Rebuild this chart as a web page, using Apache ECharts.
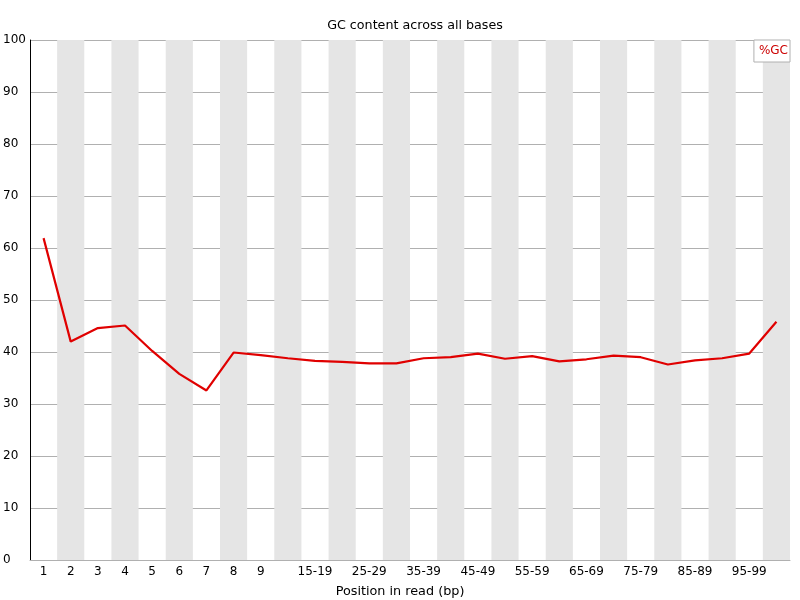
<!DOCTYPE html>
<html>
<head>
<meta charset="utf-8">
<script src="https://cdn.jsdelivr.net/npm/echarts@6/dist/echarts.min.js"></script>
<style>html,body{margin:0;padding:0;background:#fff}#c{width:800px;height:600px}</style>
</head>
<body>
<div id="c"></div>
<script>
const categories = ['1','2','3','4','5','6','7','8','9','10-14','15-19','20-24','25-29','30-34','35-39','40-44','45-49','50-54','55-59','60-64','65-69','70-74','75-79','80-84','85-89','90-94','95-99','100-101'];
const gcValues = [61.9,42.0,44.6,45.1,40.2,35.8,32.6,39.9,39.4,38.8,38.3,38.1,37.8,37.8,38.8,39.0,39.7,38.7,39.2,38.2,38.6,39.3,39.0,37.6,38.4,38.8,39.7,45.8];
const yTicks = [0,10,20,30,40,50,60,70,80,90,100];

const font = 'DejaVu Sans';
const chart = echarts.init(document.getElementById('c'), null, {renderer:'canvas'});
chart.setOption({
  animation: false,
  backgroundColor: '#ffffff',
  textStyle: {fontFamily: font},
  title: {
    text: 'GC content across all bases',
    left: 410, textAlign: 'center', top: 14,
    textStyle: {fontFamily: font, fontSize: 12.7, fontWeight: 'normal', color: '#000'}
  },
  legend: {
    right: 10, top: 40,
    data: [{name: '%GC', icon: 'none'}],
    itemWidth: 0, itemHeight: 0, itemGap: 0,
    backgroundColor: '#fff',
    borderColor: '#b0b0b0', borderWidth: 1,
    padding: [5, 2, 5, 0],
    textStyle: {fontFamily: font, fontSize: 12, color: '#cc0000'}
  },
  grid: {left: 30, right: 10, top: 40, bottom: 40, containLabel: false, outerBoundsMode: 'none'},
  xAxis: {
    type: 'category',
    data: categories,
    boundaryGap: true,
    name: 'Position in read (bp)',
    nameLocation: 'middle',
    nameGap: 25,
    nameTextStyle: {fontFamily: font, fontSize: 12.8, color: '#000', padding: [0, 20, 0, 0]},
    axisLine: {show: true, lineStyle: {color: '#b0b0b0', width: 1}},
    axisTick: {show: false},
    axisLabel: {
      color: '#000', fontFamily: font, fontSize: 12, margin: 6,
      interval: function (i) { return i < 9 || (i < 27 && (i - 9) % 2 === 1); }
    },
    splitLine: {show: false},
    splitArea: {show: true, interval: 0, areaStyle: {color: ['rgba(255,255,255,0)', '#e5e5e5']}}
  },
  yAxis: {
    type: 'value',
    min: 0, max: 100, interval: 10,
    axisLine: {show: true, lineStyle: {color: '#000', width: 1}},
    axisTick: {show: false},
    axisLabel: {color: '#000', fontFamily: font, fontSize: 12, align: 'left', margin: 27,
      formatter: function (v) { return yTicks.indexOf(v) >= 0 ? String(v) : ''; }},
    splitLine: {show: true, lineStyle: {color: '#b0b0b0', width: 1}}
  },
  series: [{
    name: '%GC',
    type: 'line',
    data: gcValues,
    showSymbol: false,
    symbol: 'none',
    lineStyle: {color: '#e00000', width: 2.2},
    itemStyle: {color: '#e00000'},
    z: 5
  }]
});
</script>
</body>
</html>
